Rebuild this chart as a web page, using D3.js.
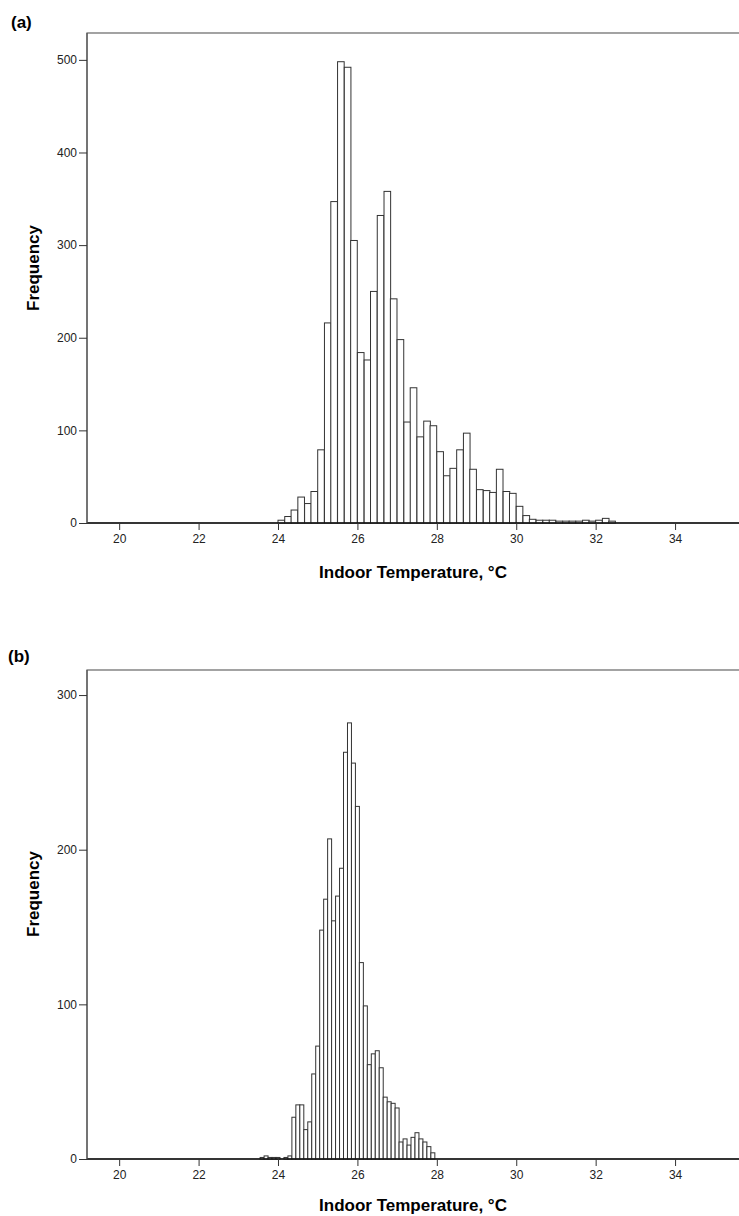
<!DOCTYPE html>
<html>
<head>
<meta charset="utf-8">
<script src="https://cdn.jsdelivr.net/npm/d3@7"></script>
<style>
  body { margin: 0; background: #fff; }
  svg { display: block; font-family: 'Liberation Sans', Arial, sans-serif; }
  .frame { fill: none; stroke: #666; stroke-width: 1.2px; }
  .bar { fill: #fff; stroke: #333; stroke-width: 1px; }
  .tick-label { font-size: 12px; fill: #222; }
  .axis-title { font-size: 17px; font-weight: bold; fill: #000; }
  .panel-label { font-size: 17px; font-weight: bold; fill: #000; }
</style>
</head>
<body>
<svg id="chart"></svg>
<script>
var width = 739,
  height = 1216;

// panel (a): lower bin edges (bin width 1/6 degree) and frequencies
var edgesA = [24.00, 24.17, 24.33, 24.50, 24.67, 24.83, 25.00, 25.17, 25.33, 25.50,
  25.67, 25.83, 26.00, 26.17, 26.33, 26.50, 26.67, 26.83, 27.00, 27.17,
  27.33, 27.50, 27.67, 27.83, 28.00, 28.17, 28.33, 28.50, 28.67, 28.83,
  29.00, 29.17, 29.33, 29.50, 29.67, 29.83, 30.00, 30.17, 30.33, 30.50,
  30.67, 30.83, 31.00, 31.17, 31.33, 31.50, 31.67, 31.83, 32.00, 32.17, 32.33];
var freqA = [3, 7, 14, 28, 21, 34, 79, 216, 347, 498,
  492, 305, 184, 176, 250, 332, 358, 242, 198, 109,
  146, 93, 110, 105, 77, 51, 59, 79, 97, 58,
  36, 35, 33, 58, 34, 32, 18, 8, 4, 3,
  3, 3, 2, 2, 2, 2, 3, 2, 3, 5, 2];
var widthA = 1 / 6;

// panel (b): bin centres (bin width 0.1 degree) and frequencies
var centresB = [23.6, 23.7, 23.8, 23.9, 24.0, 24.1, 24.2, 24.3, 24.4, 24.5,
  24.6, 24.7, 24.8, 24.9, 25.0, 25.1, 25.2, 25.3, 25.4, 25.5,
  25.6, 25.7, 25.8, 25.9, 26.0, 26.1, 26.2, 26.3, 26.4, 26.5,
  26.6, 26.7, 26.8, 26.9, 27.0, 27.1, 27.2, 27.3, 27.4, 27.5,
  27.6, 27.7, 27.8, 27.9];
var freqB = [1, 2, 1, 1, 1, 0, 1, 2, 27, 35,
  35, 19, 24, 55, 73, 148, 168, 207, 154, 170,
  188, 263, 282, 256, 228, 127, 99, 61, 68, 70,
  59, 40, 37, 36, 33, 11, 13, 9, 14, 17,
  13, 11, 8, 4];
var widthB = 0.1;

var xTicks = [20, 22, 24, 26, 28, 30, 32, 34];
var yTicksA = [0, 100, 200, 300, 400, 500];
var yTicksB = [0, 100, 200, 300];

var svg = d3.select('#chart')
  .attr('width', width)
  .attr('height', height);

var x = d3.scaleLinear()
  .domain([19.19, 35.61])
  .range([87, 739]);

drawPanel({
  label: '(a)', labelX: 11, labelY: 28,
  top: 33, bottom: 523, yMax: 529, yTicks: yTicksA,
  bars: edgesA.map(function(d, i) { return { x0: d, x1: d + widthA, n: freqA[i] }; }),
  titleY: 578, yTitleY: 268
});

drawPanel({
  label: '(b)', labelX: 8, labelY: 662,
  top: 670, bottom: 1159, yMax: 316.2, yTicks: yTicksB,
  bars: centresB.map(function(d, i) { return { x0: d - widthB / 2, x1: d + widthB / 2, n: freqB[i] }; }),
  titleY: 1211, yTitleY: 894
});

function drawPanel(p) {
  var y = d3.scaleLinear()
    .domain([0, p.yMax])
    .range([p.bottom, p.top]);

  var g = svg.append('g');

  g.append('text')
    .attr('class', 'panel-label')
    .attr('x', p.labelX)
    .attr('y', p.labelY)
    .text(p.label);

  // frame runs off the right side of the picture
  g.append('rect')
    .attr('class', 'frame')
    .attr('x', x.range()[0])
    .attr('y', p.top)
    .attr('width', 700)
    .attr('height', p.bottom - p.top);

  g.selectAll('.bar')
    .data(p.bars)
    .enter().append('rect')
    .attr('class', 'bar')
    .attr('x', function(d) { return x(d.x0); })
    .attr('y', function(d) { return y(d.n); })
    .attr('width', function(d) { return x(d.x1) - x(d.x0); })
    .attr('height', function(d) { return p.bottom - y(d.n); });

  // x axis
  var xAxis = g.append('g')
    .attr('transform', 'translate(0,' + p.bottom + ')')
    .call(d3.axisBottom(x).tickValues(xTicks).tickSize(7).tickPadding(4));
  xAxis.select('.domain')
    .attr('d', 'M' + x.range()[0] + ',0H' + (x.range()[1] + 10))
    .attr('stroke', '#111')
    .attr('stroke-width', 1.3);
  xAxis.selectAll('.tick line').attr('stroke', '#333');
  xAxis.selectAll('.tick text').attr('class', 'tick-label').attr('font-family', null).attr('font-size', null);

  // y axis
  var yAxis = g.append('g')
    .attr('transform', 'translate(' + x.range()[0] + ',0)')
    .call(d3.axisLeft(y).tickValues(p.yTicks).tickSize(8).tickPadding(2));
  yAxis.select('.domain')
    .attr('d', 'M0,' + p.top + 'V' + p.bottom)
    .attr('stroke', '#555')
    .attr('stroke-width', 1.2);
  yAxis.selectAll('.tick line').attr('stroke', '#333');
  yAxis.selectAll('.tick text').attr('class', 'tick-label').attr('font-family', null).attr('font-size', null);

  g.append('text')
    .attr('class', 'axis-title')
    .attr('x', (x.range()[0] + x.range()[1]) / 2)
    .attr('y', p.titleY)
    .attr('text-anchor', 'middle')
    .text('Indoor Temperature, °C');

  g.append('text')
    .attr('class', 'axis-title')
    .attr('transform', 'translate(39,' + p.yTitleY + ')rotate(-90)')
    .attr('text-anchor', 'middle')
    .text('Frequency');
}
</script>
</body>
</html>
